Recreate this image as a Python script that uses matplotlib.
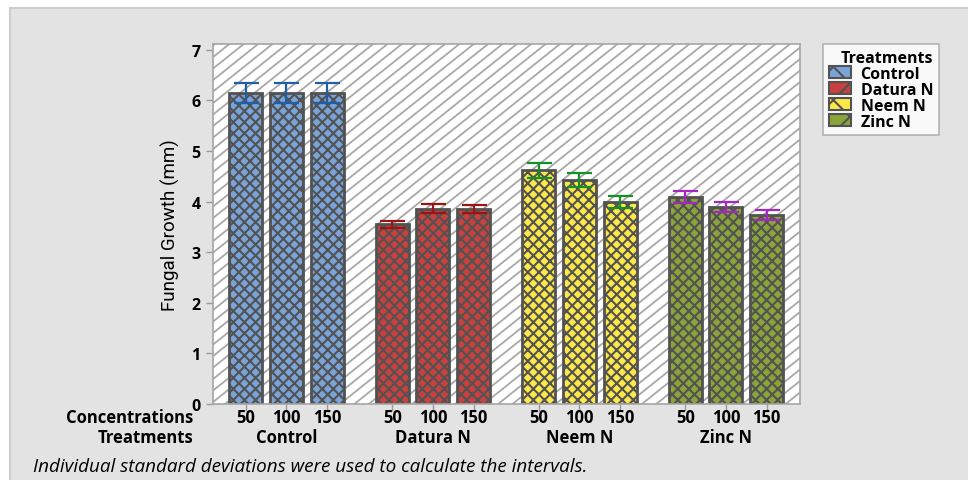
import matplotlib
matplotlib.use("Agg")
import matplotlib.pyplot as plt
import numpy as np
from matplotlib.patches import Patch, Rectangle
from matplotlib.collections import LineCollection

# data
treatments = ["Control", "Datura N", "Neem N", "Zinc N"]
concentrations = ["50", "100", "150"]
growth_means = [
    [6.15, 6.15, 6.15],
    [3.55, 3.86, 3.85],
    [4.62, 4.42, 3.99],
    [4.09, 3.90, 3.73],
]
growth_sd = [
    [0.20, 0.20, 0.20],
    [0.07, 0.09, 0.08],
    [0.15, 0.14, 0.12],
    [0.11, 0.10, 0.10],
]

bar_colors = ["#7aa3d8", "#c8413f", "#fde84a", "#8aa43a"]
err_colors = ["#1f5ea8", "#9e1414", "#159025", "#a526c2"]
edge_col = "#525252"
group_step = 3.6

plt.rcParams["hatch.linewidth"] = 1.5
plt.rcParams["font.family"] = ["Open Sans", "DejaVu Sans"]

W, H = 968, 481
fig = plt.figure(figsize=(W / 100, H / 100), dpi=100, facecolor="white")

# grey frame around the whole graph
fig.patches.append(Rectangle((10 / W, -0.01), 1.0, 1 - 9 / H + 0.01,
                             transform=fig.transFigure, facecolor="#e3e3e3",
                             edgecolor="#cdcdcd", linewidth=1.5, zorder=-10))

ax_l, ax_r, ax_t, ax_b = 213, 800, 44.7, 405
ax = fig.add_axes([ax_l / W, 1 - ax_b / H, (ax_r - ax_l) / W, (ax_b - ax_t) / H])
ax.set_facecolor("white")

# diagonal hatching behind the bars
aw, ah = ax_r - ax_l, ax_b - ax_t
slope = 0.8
spacing = 11.5
segs = []
for c in np.arange(-aw * slope, ah + spacing, spacing):
    segs.append([(0, c / ah), (1, (c + aw * slope) / ah)])
bg = LineCollection(segs, colors="#a8a8a8", linewidths=1.3,
                    transform=ax.transAxes, zorder=0.5)
ax.add_collection(bg)

xpos = []
for g, name in enumerate(treatments):
    x = g * group_step + np.arange(len(concentrations))
    xpos.extend(x)
    ax.bar(x, growth_means[g], width=0.81, color=bar_colors[g],
           edgecolor=edge_col, linewidth=2, hatch="xxx", zorder=2)
    ax.errorbar(x, growth_means[g], yerr=growth_sd[g], fmt="none",
                ecolor=err_colors[g], elinewidth=1.6, capsize=9,
                capthick=1.6, zorder=3)

ax.set_xlim(-0.806, 13.62)
ax.set_ylim(0, 7.12)
ax.set_yticks(range(8))
ax.set_yticklabels([str(v) for v in range(8)], fontsize=11.5, fontweight="bold")
ax.set_xticks(xpos)
ax.set_xticklabels([])
ax.tick_params(axis="both", color="#9a9a9a", length=5, width=1)
ax.tick_params(axis="y", pad=4)
for s in ax.spines.values():
    s.set_color("#a5a5a5")
    s.set_linewidth(1.2)

ax.set_ylabel("Fungal Growth (mm)", family=["Roboto", "DejaVu Sans"],
              fontsize=13.5, labelpad=8)

# two-row category labels under the axis
tr = ax.get_xaxis_transform()
row1 = -(418 - ax_b) / ah
row2 = -(438 - ax_b) / ah
lab_x = (193 - 245.8) / 40.7
ax.text(lab_x, row1, "Concentrations", transform=tr, ha="right", va="center",
        fontsize=12, fontweight="bold", clip_on=False)
ax.text(lab_x, row2, "Treatments", transform=tr, ha="right", va="center",
        fontsize=12, fontweight="bold", clip_on=False)
for g, name in enumerate(treatments):
    for i, c in enumerate(concentrations):
        ax.text(g * group_step + i, row1, c, transform=tr, ha="center",
                va="center", fontsize=12, fontweight="bold", clip_on=False)
    ax.text(g * group_step + 1, row2, name, transform=tr, ha="center",
            va="center", fontsize=12, fontweight="bold", clip_on=False)

fig.text(33 / W, 1 - 467 / H,
         "Individual standard deviations were used to calculate the intervals.",
         fontsize=13.6, style="italic", ha="left", va="center")

handles = [Patch(facecolor=bar_colors[g], edgecolor=edge_col, hatch="x",
                 linewidth=1.5) for g in range(len(treatments))]
leg = fig.legend(handles, treatments, title="Treatments",
                 loc="upper left", bbox_to_anchor=(823 / W, 1 - 45 / H),
                 frameon=True, fancybox=False, edgecolor="#a5a5a5",
                 prop={"weight": "bold", "size": 11.5},
                 title_fontproperties={"weight": "bold", "size": 11.5},
                 handlelength=1.4, handleheight=0.8, handletextpad=0.6,
                 labelspacing=0.0, borderpad=0.35, borderaxespad=0)
leg.get_frame().set_linewidth(1.2)
leg._legend_box.align = "right"

fig.savefig("out.png", dpi=100, facecolor=fig.get_facecolor())
